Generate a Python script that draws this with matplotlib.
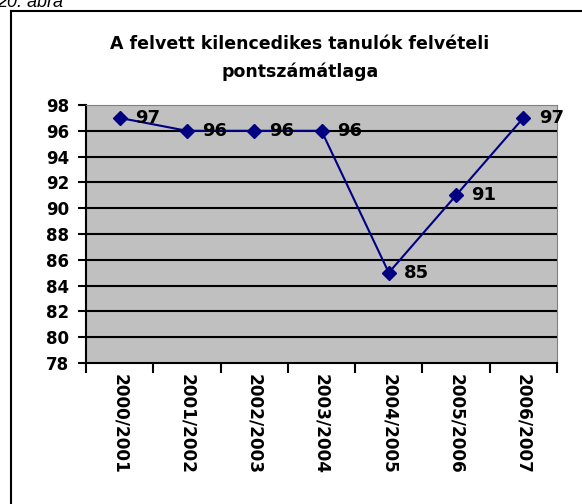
import matplotlib.pyplot as plt
from matplotlib.lines import Line2D
import numpy as np

# adatok
evek = ["2000/2001", "2001/2002", "2002/2003", "2003/2004", "2004/2005", "2005/2006", "2006/2007"]
pontok = [97, 96, 96, 96, 85, 91, 97]
y_ticks = [78, 80, 82, 84, 86, 88, 90, 92, 94, 96, 98]
cim = "A felvett kilencedikes tanulók felvételi\npontszámátlaga"

plt.rcParams['font.family'] = ['DejaVu Sans']

fig = plt.figure(figsize=(5.82, 5.04), dpi=100)
ax = fig.add_axes([86 / 582, 1 - 363 / 504, 471 / 582, 258 / 504])
ax.set_facecolor('#C0C0C0')

x = np.arange(len(evek))
ax.plot(x, pontok, color='#000080', lw=1.5, marker='D', markersize=7, zorder=3)
for i in range(len(x)):
    ax.annotate(str(pontok[i]), (x[i], pontok[i]), xytext=(11, 0), textcoords='offset points',
                ha='left', va='center', fontsize=13, fontweight='bold', annotation_clip=False)

ax.set_xlim(-0.5, len(evek) - 0.5)
ax.set_ylim(78, 98)
ax.set_yticks(y_ticks)
ax.set_yticklabels([str(t) for t in y_ticks], fontsize=12, fontweight='bold')
ax.set_xticks(x)
ax.set_xticklabels(evek, rotation=270, fontsize=12.2, fontweight='bold', va='top', ha='center')
ax.set_xticks(np.arange(-0.5, len(evek)), minor=True)
ax.tick_params(axis='x', which='major', length=0, pad=8)
ax.tick_params(axis='x', which='minor', length=7, width=1.5, direction='out')
ax.tick_params(axis='y', length=6, width=1.5, direction='out', pad=6)

# racsvonalak
for t in y_ticks[1:-1]:
    ax.axhline(t, color='black', lw=1.5, zorder=1)

ax.spines['top'].set_color('#808080')
ax.spines['right'].set_color('#808080')
ax.spines['left'].set_linewidth(1.5)
ax.spines['bottom'].set_linewidth(1.5)

fig.text(300 / 582, 1 - 58 / 504, cim, ha='center', va='center', fontsize=12.5,
         fontweight='bold', linespacing=1.6)
fig.text(-3 / 582, 1 - 7 / 504, "20. ábra", ha='left', va='baseline', fontsize=13,
         style='italic', family='Liberation Sans')

# keret
fig.add_artist(Line2D([11 / 582, 11 / 582], [0, 1 - 11 / 504], color='black', lw=1.5))
fig.add_artist(Line2D([11 / 582, 1], [1 - 11 / 504, 1 - 11 / 504], color='black', lw=1.5))

fig.savefig('out.png', dpi=100)
